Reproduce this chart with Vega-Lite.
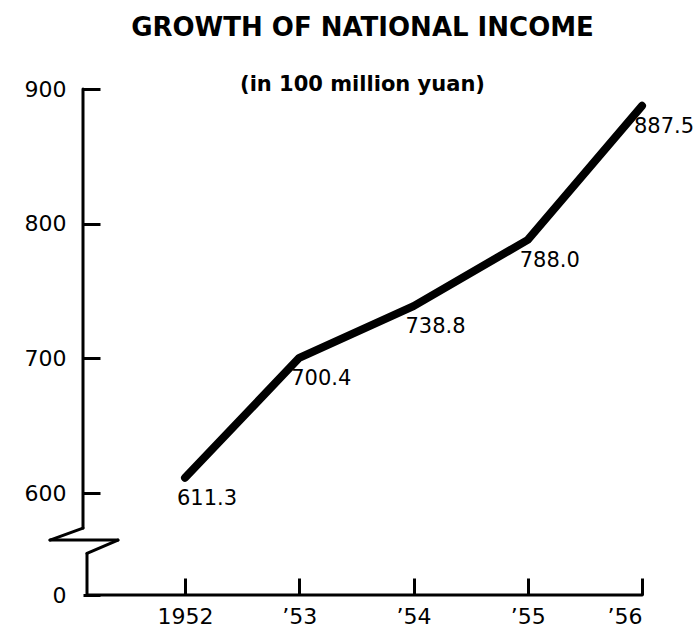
{
  "$schema": "https://vega.github.io/schema/vega-lite/v6.json",
  "width": 559,
  "height": 506,
  "autosize": {"type": "none"},
  "padding": {"left": 83, "top": 89, "right": 52, "bottom": 33},
  "background": "white",
  "title": {
    "text": "GROWTH OF NATIONAL INCOME",
    "subtitle": "(in 100 million yuan)",
    "anchor": "middle",
    "frame": "group",
    "font": "DejaVu Sans",
    "fontSize": 26,
    "fontWeight": "bold",
    "color": "black",
    "subtitleFont": "DejaVu Sans",
    "subtitleFontSize": 21,
    "subtitleFontWeight": "bold",
    "subtitleColor": "black",
    "subtitlePadding": 33,
    "offset": -17
  },
  "config": {"view": {"stroke": null}, "font": "DejaVu Sans"},
  "data": {
    "values": [
      {"year": 1952, "income": 611.3},
      {"year": 1953, "income": 700.4},
      {"year": 1954, "income": 738.8},
      {"year": 1955, "income": 788.0},
      {"year": 1956, "income": 887.5}
    ]
  },
  "layer": [
    {
      "mark": {"type": "line", "color": "black", "strokeWidth": 8, "strokeCap": "round", "strokeJoin": "round"},
      "encoding": {
        "x": {
          "field": "year",
          "type": "quantitative",
          "scale": {"domain": [1951.107, 1956], "nice": false, "zero": false},
          "axis": {
            "values": [1952, 1953, 1954, 1955, 1956],
            "labelExpr": "datum.value == 1952 ? '1952' : '’' + (datum.value - 1900)",
            "domain": false,
            "grid": false,
            "tickSize": -17,
            "tickWidth": 3,
            "tickColor": "black",
            "labelFont": "DejaVu Sans",
            "labelFontSize": 22,
            "labelColor": "black",
            "labelPadding": 28,
            "title": null
          }
        },
        "y": {
          "field": "income",
          "type": "quantitative",
          "scale": {"domain": [524.3, 900], "nice": false, "zero": false},
          "axis": {
            "values": [524.3, 600, 700, 800, 900],
            "labelExpr": "datum.value < 550 ? '0' : datum.label",
            "domain": false,
            "grid": false,
            "tickSize": -17,
            "tickWidth": 3,
            "tickColor": "black",
            "labelFont": "DejaVu Sans",
            "labelFontSize": 22,
            "labelColor": "black",
            "labelPadding": 34,
            "title": null,
            "encode": {"labels": {"update": {"dx": {"signal": "datum.value < 550 ? 12 : 0"}}}}
          }
        }
      }
    },
    {
      "mark": {"type": "text", "fontSize": 21, "font": "DejaVu Sans", "color": "black", "align": "center", "baseline": "middle", "dx": 22, "dy": 21},
      "encoding": {
        "x": {"field": "year", "type": "quantitative"},
        "y": {"field": "income", "type": "quantitative"},
        "text": {"field": "income", "type": "quantitative", "format": ".1f"}
      }
    },
    {
      "data": {"values": [{}]},
      "mark": {"type": "rule", "color": "black", "strokeWidth": 3, "strokeCap": "round"},
      "encoding": {
        "x": {"datum": 1951.107, "type": "quantitative"},
        "y": {"datum": 900, "type": "quantitative"},
        "y2": {"datum": 574}
      }
    },
    {
      "data": {"values": [{}]},
      "mark": {"type": "rule", "color": "black", "strokeWidth": 3, "strokeCap": "round"},
      "encoding": {
        "x": {"datum": 1951.107, "type": "quantitative"},
        "x2": {"datum": 1950.818},
        "y": {"datum": 574, "type": "quantitative"},
        "y2": {"datum": 565.1}
      }
    },
    {
      "data": {"values": [{}]},
      "mark": {"type": "rule", "color": "black", "strokeWidth": 3, "strokeCap": "round"},
      "encoding": {
        "x": {"datum": 1950.818, "type": "quantitative"},
        "x2": {"datum": 1951.413},
        "y": {"datum": 565.1, "type": "quantitative"}
      }
    },
    {
      "data": {"values": [{}]},
      "mark": {"type": "rule", "color": "black", "strokeWidth": 3, "strokeCap": "round"},
      "encoding": {
        "x": {"datum": 1951.413, "type": "quantitative"},
        "x2": {"datum": 1951.142},
        "y": {"datum": 565.1, "type": "quantitative"},
        "y2": {"datum": 555.2}
      }
    },
    {
      "data": {"values": [{}]},
      "mark": {"type": "rule", "color": "black", "strokeWidth": 3, "strokeCap": "round"},
      "encoding": {
        "x": {"datum": 1951.142, "type": "quantitative"},
        "y": {"datum": 555.2, "type": "quantitative"},
        "y2": {"datum": 524.3}
      }
    },
    {
      "data": {"values": [{}]},
      "mark": {"type": "rule", "color": "black", "strokeWidth": 3, "strokeCap": "round"},
      "encoding": {
        "x": {"datum": 1951.142, "type": "quantitative"},
        "x2": {"datum": 1956},
        "y": {"datum": 524.3, "type": "quantitative"}
      }
    }
  ]
}
